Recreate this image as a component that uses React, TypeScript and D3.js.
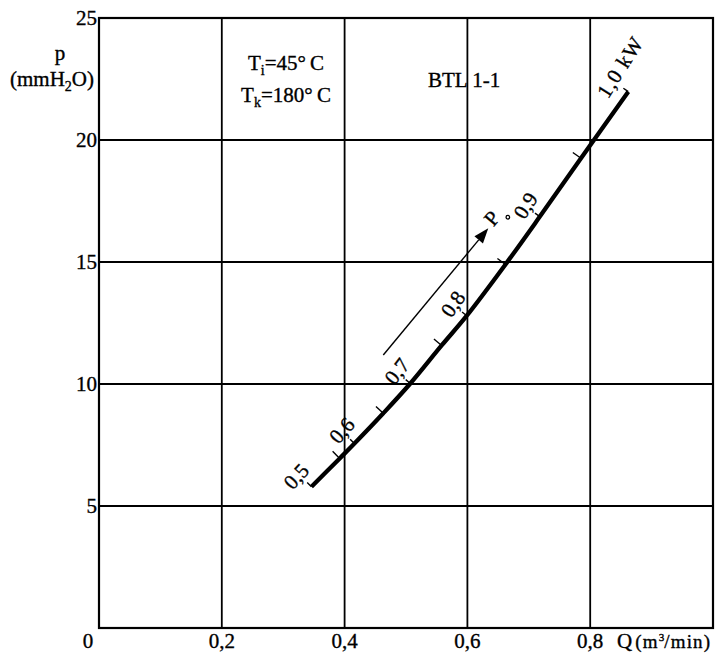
import React, { useRef, useEffect } from "react";
import * as d3 from "d3";

// axis ticks
const xTicks = [0.2, 0.4, 0.6, 0.8];
const xTickLabels = ["0,2", "0,4", "0,6", "0,8"];
const yTicks = [5, 10, 15, 20, 25];
const yTickLabels = ["5", "10", "15", "20", "25"];

// fan curve BTL 1-1, marked with shaft power (kW)
const powerSteps = [0.5, 0.55, 0.6, 0.65, 0.7, 0.75, 0.8, 0.85, 0.9, 0.95, 1.0];
const flowQ = [0.346, 0.392, 0.416, 0.463, 0.507, 0.558, 0.599, 0.662, 0.718, 0.785, 0.862];
const pressureP = [5.79, 6.95, 7.56, 8.8, 10.02, 11.58, 12.8, 14.9, 16.86, 19.25, 21.98];
const powerLabels = ["0,5", "0,6", "0,7", "0,8", "0,9", "1,0 kW"];

// direction arrow for increasing P
const arrowQ = [0.463, 0.634];
const arrowP = [11.19, 16.38];

const W = 720;
const H = 661;
const FONT = "'Liberation Serif', 'Times New Roman', serif";

const FanChart = () => {
  const svgRef = useRef<SVGSVGElement>(null);

  useEffect(() => {
    const svg = d3.select(svgRef.current);
    svg.selectAll("*").remove();

    const x = d3.scaleLinear().domain([0, 1]).range([99, 713]);
    const y = d3.scaleLinear().domain([0, 25]).range([628, 18]);

    // slightly heavier text, like the printed original
    const txt = (sel, size = 21) =>
      sel
        .style("font", `${size}px ${FONT}`)
        .attr("fill", "#000")
        .attr("stroke", "#000")
        .attr("stroke-width", 0.35);

    // grid
    svg
      .append("g")
      .selectAll("line")
      .data(xTicks)
      .join("line")
      .attr("x1", (d) => x(d))
      .attr("x2", (d) => x(d))
      .attr("y1", y(0))
      .attr("y2", y(25))
      .attr("stroke", "#000")
      .attr("stroke-width", 1.8);

    svg
      .append("g")
      .selectAll("line")
      .data(yTicks.filter((d) => d < 25))
      .join("line")
      .attr("x1", x(0))
      .attr("x2", x(1))
      .attr("y1", (d) => y(d))
      .attr("y2", (d) => y(d))
      .attr("stroke", "#000")
      .attr("stroke-width", 1.8);

    // frame
    svg
      .append("rect")
      .attr("x", x(0))
      .attr("y", y(25))
      .attr("width", x(1) - x(0))
      .attr("height", y(0) - y(25))
      .attr("fill", "none")
      .attr("stroke", "#000")
      .attr("stroke-width", 2.2);

    // tick labels
    txt(
      svg
        .append("g")
        .selectAll("text")
        .data(xTicks)
        .join("text")
        .attr("x", (d) => x(d))
        .attr("y", 648)
        .attr("text-anchor", "middle")
        .text((d, i) => xTickLabels[i])
    );

    txt(
      svg
        .append("g")
        .selectAll("text")
        .data(yTicks)
        .join("text")
        .attr("x", 97)
        .attr("y", (d) => y(d) + 7)
        .attr("text-anchor", "end")
        .text((d, i) => yTickLabels[i])
    );

    txt(svg.append("text").attr("x", 88).attr("y", 648).attr("text-anchor", "middle").text("0"));

    // axis titles
    txt(svg.append("text").attr("x", 60).attr("y", 60).attr("text-anchor", "middle").text("p"));

    const unitY = txt(svg.append("text").attr("x", 52).attr("y", 86).attr("text-anchor", "middle"));
    unitY.append("tspan").text("(mmH");
    unitY.append("tspan").attr("dy", 5).style("font-size", "14px").text("2");
    unitY.append("tspan").attr("dy", -5).text("O)");

    const unitX = txt(svg.append("text").attr("x", 617).attr("y", 648));
    unitX.append("tspan").text("Q");
    unitX
      .append("tspan")
      .attr("dx", 3)
      .style("font-size", "19px")
      .style("letter-spacing", "1.2px")
      .text("(m");
    unitX.append("tspan").attr("dy", -7).style("font-size", "11px").text("3");
    unitX
      .append("tspan")
      .attr("dy", 7)
      .style("font-size", "19px")
      .style("letter-spacing", "1.2px")
      .text("/min)");

    // annotations
    const t1 = txt(svg.append("text").attr("x", 286).attr("y", 70).attr("text-anchor", "middle"));
    t1.append("tspan").text("T");
    t1.append("tspan").attr("dy", 5).style("font-size", "14px").text("i");
    t1.append("tspan").attr("dy", -5).text("=45°\u2009C");

    const t2 = txt(svg.append("text").attr("x", 286).attr("y", 102).attr("text-anchor", "middle"));
    t2.append("tspan").text("T");
    t2.append("tspan").attr("dy", 5).style("font-size", "14px").text("k");
    t2.append("tspan").attr("dy", -5).text("=180°\u2009C");

    txt(svg.append("text").attr("x", 428).attr("y", 87).text("BTL 1-1"));

    // curve
    const pts = powerSteps.map((d, i) => [x(flowQ[i]), y(pressureP[i])]);

    const line = d3
      .line()
      .x((d) => d[0])
      .y((d) => d[1])
      .curve(d3.curveCatmullRom.alpha(0.5));

    svg
      .append("path")
      .datum(pts)
      .attr("fill", "none")
      .attr("stroke", "#000")
      .attr("stroke-width", 4.3)
      .attr("stroke-linecap", "butt")
      .attr("d", line);

    // tangent / normal at each power mark
    const dirs = pts.map((p, i) => {
      const a = pts[Math.max(0, i - 1)];
      const b = pts[Math.min(pts.length - 1, i + 1)];
      const ang = Math.atan2(b[1] - a[1], b[0] - a[0]);
      return { ang, t: [Math.cos(ang), Math.sin(ang)], n: [Math.sin(ang), -Math.cos(ang)] };
    });

    // ticks: long at half steps, short at labelled steps
    svg
      .append("g")
      .selectAll("line")
      .data(pts)
      .join("line")
      .attr("x1", (p) => p[0])
      .attr("y1", (p) => p[1])
      .attr("x2", (p, i) => p[0] + dirs[i].n[0] * (i % 2 ? 10 : 6))
      .attr("y2", (p, i) => p[1] + dirs[i].n[1] * (i % 2 ? 10 : 6))
      .attr("stroke", "#000")
      .attr("stroke-width", 1.4);

    // power labels
    const labelled = pts.filter((p, i) => i % 2 === 0);
    txt(
      svg
        .append("g")
        .selectAll("text")
        .data(labelled)
        .join("text")
        .attr("transform", (p, j) => {
          const i = j * 2;
          const { ang, t, n } = dirs[i];
          const last = i === pts.length - 1;
          const dt = last ? -18 : j === 0 ? -3 : 1;
          const dn = last ? 12 : 11;
          const px = p[0] + t[0] * dt + n[0] * dn;
          const py = p[1] + t[1] * dt + n[1] * dn;
          return `translate(${px},${py}) rotate(${(ang * 180) / Math.PI - 3})`;
        })
        .attr("text-anchor", (p, j) => (j === labelled.length - 1 ? "start" : "middle"))
        .style("letter-spacing", (p, j) => (j === labelled.length - 1 ? "1px" : "0px"))
        .text((p, j) => powerLabels[j])
    );

    // arrow
    const a0 = [x(arrowQ[0]), y(arrowP[0])];
    const a1 = [x(arrowQ[1]), y(arrowP[1])];
    const aAng = Math.atan2(a1[1] - a0[1], a1[0] - a0[0]);
    const at = [Math.cos(aAng), Math.sin(aAng)];
    const an = [Math.sin(aAng), -Math.cos(aAng)];
    const headL = 15;
    const headW = 5.5;
    const base = [a1[0] - at[0] * headL, a1[1] - at[1] * headL];

    svg
      .append("line")
      .attr("x1", a0[0])
      .attr("y1", a0[1])
      .attr("x2", base[0])
      .attr("y2", base[1])
      .attr("stroke", "#000")
      .attr("stroke-width", 1.4);

    svg
      .append("path")
      .attr(
        "d",
        `M${a1[0]},${a1[1]} L${base[0] + an[0] * headW},${base[1] + an[1] * headW} L${base[0] - an[0] * headW},${base[1] - an[1] * headW} Z`
      )
      .attr("fill", "#000");

    txt(
      svg
        .append("text")
        .attr(
          "transform",
          `translate(${a1[0] + at[0] * 10 + an[0] * 4},${a1[1] + at[1] * 10 + an[1] * 4}) rotate(${(aAng * 180) / Math.PI})`
        )
        .attr("text-anchor", "middle")
        .attr("dy", "0.35em")
        .text("P")
    );

    svg
      .append("circle")
      .attr("cx", a1[0] + at[0] * 21 - an[0] * 8)
      .attr("cy", a1[1] + at[1] * 21 - an[1] * 8)
      .attr("r", 1.8)
      .attr("fill", "none")
      .attr("stroke", "#000")
      .attr("stroke-width", 1.3);
  }, []);

  return (
    <svg
      ref={svgRef}
      width={W}
      height={H}
      style={{ position: "absolute", left: 0, top: 0, background: "#fff" }}
    ></svg>
  );
};

export default function App() {
  return <FanChart />;
}
